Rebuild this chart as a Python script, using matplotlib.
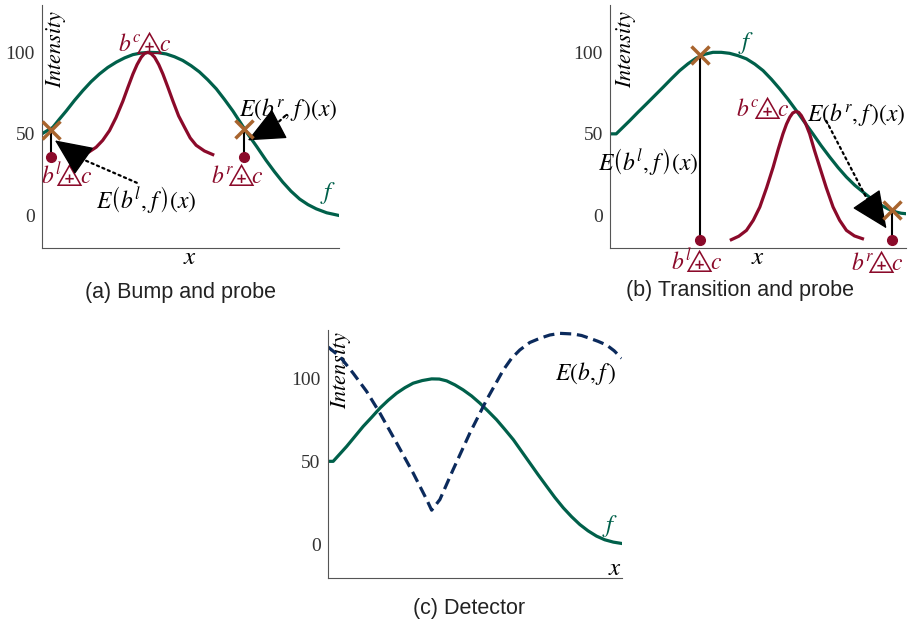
import numpy as np
from matplotlib import pyplot as plt

plt.rcParams['mathtext.fontset'] = 'stix'

green = '#00604a'
red = '#8b0a2a'
brown = '#a8642e'
navy = '#0b2a5c'

# (a) bump and probe
a_fx = [0, 3.7, 5.9, 8.2, 11, 13.8, 16.6, 19.4, 22.2, 25.1, 27.9, 30.7, 33.5, 36.3, 39.1, 41.9, 44.7, 47.5,
        50.3, 53.1, 55.9, 58.8, 61.6, 64.4, 66.9, 69.4, 72.5, 75.6, 78.4, 81.2, 84, 86.9, 89.7, 92.5, 96, 100]
a_fy = [50, 54, 59, 64, 70.5, 76.5, 82, 86.7, 90.7, 94, 96.6, 98.6, 99.6, 100, 99.8, 99, 97.3, 95,
        91.8, 88, 83.2, 77.6, 71, 64, 57, 50, 42, 33.7, 26.8, 20.4, 14.8, 10, 6.6, 4, 1.6, 0]
a_bx = [13.3, 15.8, 18.3, 20.5, 22.8, 25, 27.3, 29, 30.7, 32.1, 33.5, 34.6, 35.7, 36.8, 38.0, 39.4,
        40.8, 42.5, 44.2, 46.1, 48.1, 50, 52.0, 54.8, 57.6]
a_by = [36.7, 38.8, 41.8, 46, 52, 60, 70, 78.5, 86.7, 92.5, 97, 99.3, 100, 99.2, 97, 92.5,
        86.7, 78.5, 70, 61, 54, 47.5, 43, 39.5, 37.3]
a_probe_x = [3.1, 68.1]
a_probe_f = [52.4, 53]
a_probe_b = [36.1, 36.1]

# (b) transition and probe
b_fx = [0, 2.2, 6.7, 9.5, 12.4, 15.2, 18.0, 20.8, 23.6, 26.4, 29.2, 32, 34.8, 37.6, 40.4, 43.2, 46.1,
        48.9, 51.7, 54.5, 57.3, 60.1, 62.9, 65.7, 68.5, 71.3, 74.2, 77, 79.8, 82.6, 85.4, 88.2, 91.0,
        93.8, 96.6, 98.3, 100]
b_fy = [50, 50, 58, 63.2, 68.4, 73.5, 78.6, 83.8, 88.8, 93, 96.5, 98.8, 100, 100, 99.4, 98, 96,
        92.8, 88.8, 83.5, 77.6, 71.2, 64.3, 57.1, 50, 42.7, 35.7, 29.3, 23.5, 18.5, 14.3, 10.2, 6.7,
        4, 2, 1.3, 1]
b_bx = [41.0, 43.5, 46.1, 48.4, 50.6, 52.9, 55.1, 56.8, 58.4, 59.6, 60.7, 61.7, 62.7, 63.7, 64.6,
        66, 67.4, 69, 70.8, 73, 75.3, 77.5, 79.8, 82.5, 85.2]
b_by = [-14.9, -12.8, -9.2, -3, 5.1, 17, 29.6, 40.5, 50, 56, 60.2, 62.8, 63.7, 63.2, 61.2,
        56.5, 50, 40, 29.6, 17, 5.1, -3, -9.2, -12.6, -14.3]
b_probe_x = [30.3, 95.2]
b_probe_f = [98.4, 3.1]
b_probe_b = [-15.3, -15.3]

# (c) detector
c_fx = [0, 1.9, 6.5, 9.3, 12.1, 15, 17.8, 20.6, 23.5, 26.3, 29.1, 32.2, 35.4, 38, 40.5, 43.3, 46.1,
        49, 51.8, 54.6, 57.5, 60.3, 63.2, 66, 68.8, 71.6, 74.5, 77.3, 80.2, 83, 85.8, 88.6, 91.5,
        94.3, 97.2, 100]
c_fy = [50, 50, 59, 65, 71, 76.5, 82, 86.7, 91, 94.3, 97, 98.6, 99.6, 99.5, 98.4, 96, 93,
        89.3, 85, 80.2, 75, 69.2, 63, 56, 49, 42, 35, 28.3, 22, 16.7, 12, 8.2, 5,
        2.8, 1.4, 0.6]
c_ex = [0, 4.2, 8.7, 13.3, 17.8, 23.5, 29.1, 33.7, 35.4, 38.2, 42.7, 48.4, 54.1, 59.8, 62.6, 65.4,
        68.8, 72.2, 75.6, 79.0, 83.6, 86.4, 89.2, 92, 94.9, 97.5, 100]
c_ey = [119, 113, 103, 92, 79, 61, 43, 27, 20.6, 27, 45, 67, 87, 105, 112, 117,
        121.5, 124, 126, 127, 126.6, 125.7, 124, 122.2, 120, 116.5, 112]

yticks = [0, 50, 100]


def setup(ax, lab_x, lab_y):
    ax.set_xlim(0, 100)
    ax.set_ylim(-20, 129)
    ax.set_xticks([])
    ax.set_yticks(yticks)
    ax.tick_params(length=0, labelsize=14, labelcolor='#333333', pad=5)
    for t in ax.get_yticklabels():
        t.set_family('Liberation Serif')
    for s in ['top', 'right']:
        ax.spines[s].set_visible(False)
    for s in ['left', 'bottom']:
        ax.spines[s].set_color('#555555')
    ax.set_ylabel('$Intensity$', fontsize=16)
    ax.yaxis.set_label_coords(lab_x, lab_y)


def probes(ax, px, pf, pb):
    for x, yf, yb in zip(px, pf, pb):
        ax.plot([x, x], [yb, yf], c='k', lw=1.5, zorder=3)
    ax.plot(px, pb, 'o', c=red, ms=7, zorder=4)
    ax.plot(px, pf, 'x', c=brown, ms=13, mew=2.5, zorder=5)


def pointer(ax, tail, base, tip):
    # dotted shaft, solid head
    ax.annotate('', xy=base, xytext=tail,
                arrowprops=dict(arrowstyle='-', linestyle=':', lw=1.6, color='k',
                                shrinkA=0, shrinkB=0))
    ax.annotate('', xy=tip, xytext=base,
                arrowprops=dict(arrowstyle='-|>,head_length=1.0,head_width=0.45',
                                lw=1, color='k', shrinkA=0, shrinkB=0, mutation_scale=24))


def lab(ax, x, y, s, **kw):
    ax.text(x, y, s, ha='center', va='center', **kw)


def bl(sup):
    return r'$b^{%s}\!\!⨹\!c$' % sup


fig = plt.figure(figsize=(9.1, 6.31), dpi=100)

# panel (a)
ax = fig.add_axes([0.046, 0.607, 0.326, 0.385])
setup(ax, 0.088, 0.82)
ax.plot(a_fx, a_fy, c=green, lw=2.3)
ax.plot(a_bx, a_by, c=red, lw=2.3)
probes(ax, a_probe_x, a_probe_f, a_probe_b)
lab(ax, 34.6, 106, bl('c'), color=red, fontsize=17)
lab(ax, 8.2, 25, bl('l'), color=red, fontsize=17)
lab(ax, 66, 25, bl('r'), color=red, fontsize=17)
lab(ax, 96.4, 14, '$f$', color=green, fontsize=18)
lab(ax, 35, 10, r'$E\left(b^l,f\,\right)\left(x\right)$', fontsize=17)
lab(ax, 83, 65, r'$E\left(b^r,f\,\right)\left(x\right)$', fontsize=17)
pointer(ax, (32, 20), (13, 35), (4.4, 46))
pointer(ax, (82, 61), (77.8, 54), (69.4, 46))
ax.set_xlabel('$x$', fontsize=18, labelpad=-2)
fig.text(0.198, 0.537, '(a) Bump and probe', family='Liberation Sans', fontsize=15.5,
         ha='center', va='center', color='#222222')

# panel (b)
ax = fig.add_axes([0.670, 0.607, 0.326, 0.385])
setup(ax, 0.096, 0.82)
ax.plot(b_fx, b_fy, c=green, lw=2.3)
ax.plot(b_bx, b_by, c=red, lw=2.3)
probes(ax, b_probe_x, b_probe_f, b_probe_b)
lab(ax, 51.7, 66, bl('c'), color=red, fontsize=17)
lab(ax, 29.2, -28, bl('l'), color=red, fontsize=17)
lab(ax, 90.4, -28, bl('r'), color=red, fontsize=17)
lab(ax, 46, 106, '$f$', color=green, fontsize=18)
lab(ax, 12.9, 33, r'$E\left(b^l,f\,\right)\left(x\right)$', fontsize=17)
lab(ax, 83, 62, r'$E\left(b^r,f\,\right)\left(x\right)$', fontsize=17)
pointer(ax, (73, 58), (87.5, 7.4), (93.3, -8))
ax.set_xlabel('$x$', fontsize=18, labelpad=-2)
fig.text(0.813, 0.54, '(b) Transition and probe', family='Liberation Sans', fontsize=15.5,
         ha='center', va='center', color='#222222')

# panel (c)
ax = fig.add_axes([0.360, 0.0845, 0.323, 0.3925])
setup(ax, 0.086, 0.84)
ax.plot(c_fx, c_fy, c=green, lw=2.3)
ax.plot(c_ex, c_ey, c=navy, lw=2.3, ls=(0, (3.5, 1.8)))
lab(ax, 88, 103, r'$E\left(b,f\,\right)$', fontsize=17)
lab(ax, 96, 11, '$f$', color=green, fontsize=18)
lab(ax, 97.7, -14, '$x$', fontsize=18)
fig.text(0.516, 0.036, '(c) Detector', family='Liberation Sans', fontsize=15.5,
         ha='center', va='center', color='#222222')

plt.savefig('out.png')
